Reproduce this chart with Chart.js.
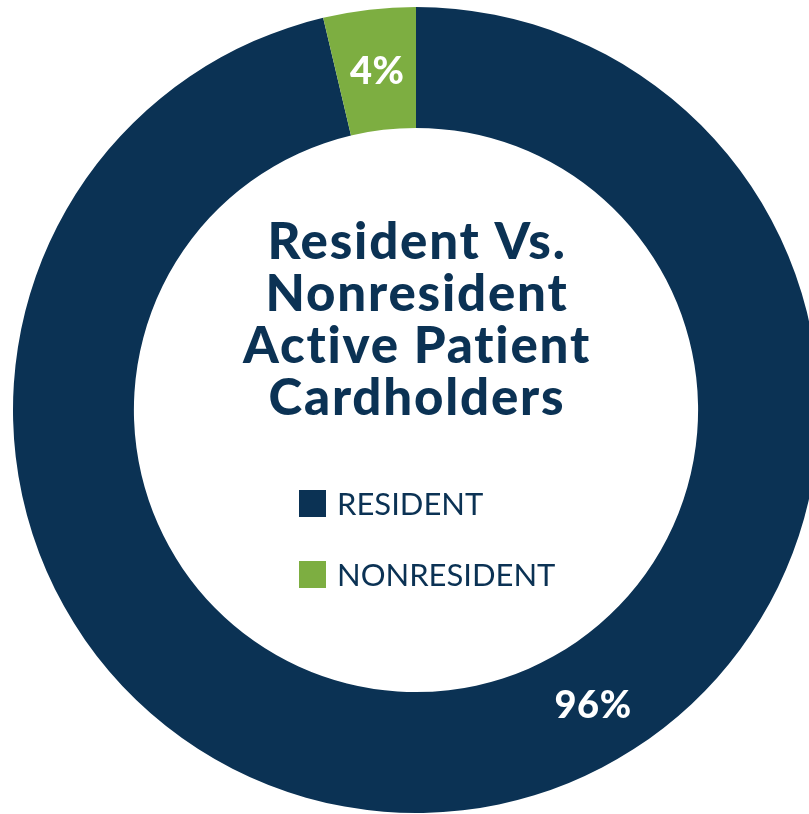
<!DOCTYPE html>
<html>
<head>
<meta charset="utf-8">
<script src="https://cdn.jsdelivr.net/npm/chart.js"></script>
<style>
  html, body { margin: 0; padding: 0; background: #fff; overflow: hidden; width: 809px; height: 814px; }
  #wrap { position: absolute; left: 13px; top: 7px; width: 806px; height: 806px; }
</style>
</head>
<body>
<div id="wrap"><canvas id="myChart" width="806" height="806"></canvas></div>
<script>
const categories = ['RESIDENT', 'NONRESIDENT'];
const shares = [96.3, 3.7];
const shareLabels = ['96%', '4%'];
const titleLines = ['Resident Vs.', 'Nonresident', 'Active Patient', 'Cardholders'];
const colors = ['#0b3254', '#7dae41'];

// where along each slice its percent label sits (0 = start, 1 = end)
const labelAlong = [0.43, 0.5];

const centerText = {
    id: 'centerText',
    afterDraw(chart) {
        const ctx = chart.ctx;
        const arcs = chart.getDatasetMeta(0).data;
        const cx = arcs[0].x;
        const cy = arcs[0].y;
        ctx.save();

        // title in the hole
        ctx.fillStyle = colors[0];
        ctx.textAlign = 'center';
        ctx.textBaseline = 'alphabetic';
        ctx.font = '900 51px Lato';
        ctx.letterSpacing = '1.8px';
        titleLines.forEach((line, i) => {
            ctx.fillText(line, cx + 1, cy - 151 + i * 52);
        });

        // legend
        ctx.letterSpacing = '0px';
        ctx.textAlign = 'left';
        ctx.font = '400 31px Lato';
        categories.forEach((cat, i) => {
            const y = cy + 80 + i * 71;
            ctx.fillStyle = colors[i];
            ctx.fillRect(cx - 117, y, 27, 27);
            ctx.fillStyle = colors[0];
            ctx.fillText(cat, cx - 79, y + 25);
        });

        // percent labels on the ring
        ctx.fillStyle = '#fff';
        ctx.textAlign = 'center';
        ctx.font = '900 38px Lato';
        ctx.letterSpacing = '0.5px';
        arcs.forEach((arc, i) => {
            const a = arc.startAngle + (arc.endAngle - arc.startAngle) * labelAlong[i];
            const r = (arc.innerRadius + arc.outerRadius) / 2;
            const x = arc.x + Math.cos(a) * r;
            const y = arc.y + Math.sin(a) * r;
            ctx.fillText(shareLabels[i], x + 1, y + 14);
        });
        ctx.restore();
    }
};

const ctx = document.getElementById('myChart').getContext('2d');
new Chart(ctx, {
    type: 'doughnut',
    data: {
        labels: categories,
        datasets: [{
            data: shares,
            backgroundColor: colors,
            borderWidth: 0
        }]
    },
    options: {
        responsive: false,
        animation: false,
        cutout: '70%',
        layout: { padding: 0 },
        plugins: {
            legend: { display: false },
            tooltip: { enabled: false }
        }
    },
    plugins: [centerText]
});
</script>
</body>
</html>
